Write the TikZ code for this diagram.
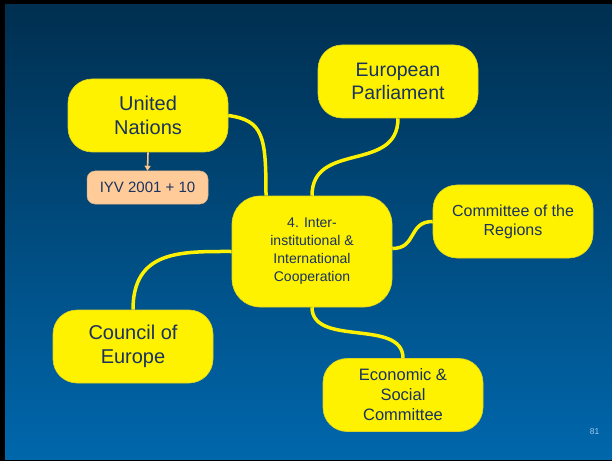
\documentclass[tikz,border=0pt]{standalone}
\usepackage{fontspec}
\setmainfont{Liberation Sans}
\usetikzlibrary{positioning}
\usetikzlibrary{arrows.meta}
\definecolor{slidetop}{RGB}{0,47,80}
\definecolor{slidebottom}{RGB}{0,103,172}
\definecolor{inktext}{RGB}{25,50,95}
\definecolor{peach}{RGB}{255,204,153}
\definecolor{pagenum}{RGB}{160,200,240}
\begin{document}
\begin{tikzpicture}[x=1pt,y=1pt,
  bubble/.style={draw=yellow!85!black,line width=0.6pt,fill=yellow,rounded corners=24pt,
    minimum width=160pt,minimum height=73pt,align=center,text=inktext,inner sep=2pt},
  branch/.style={draw=yellow,line width=3.5pt}]
 \useasboundingbox (0,0) rectangle (612,461);
 \fill[black](0,0) rectangle (612,461);
 \shade[top color=slidetop,bottom color=slidebottom](5,2) rectangle (612,456);
 \node[bubble,minimum height=111pt,rounded corners=28pt,font=\fontsize{14}{18}\selectfont] (hub) at (312,209.5) {4. Inter-\\institutional \&\\International\\Cooperation};
 \node[bubble,font=\fontsize{20}{24}\selectfont] (un) at (148,345.5) {United\\Nations};
 \node[draw=peach!85!black,line width=0.5pt,fill=peach,rounded corners=8pt,minimum width=121pt,minimum height=33pt,text=inktext,font=\fontsize{15}{18}\selectfont] (iyv) at (147.5,273.5) {IYV 2001 + 10};
 \node[bubble,font=\fontsize{19.5}{23}\selectfont] (ep) at (398,379.5) {European\\Parliament};
 \node[bubble,font=\fontsize{16}{19}\selectfont] (cor) at (513,239.5) {Committee of the\\Regions};
 \node[bubble,font=\fontsize{20}{23.5}\selectfont] (coe) at (133,114.5) {Council of\\Europe};
 \node[bubble,font=\fontsize{16.5}{20}\selectfont] (esc) at (403,66) {Economic \&\\Social\\Committee};
 \node[text=pagenum,font=\fontsize{8.5}{9}\selectfont] (pg) at (594.5,29) {81};
 \draw[branch] (un.east) .. controls +(35,-5) and +(0,60) .. ([xshift=-46pt]hub.north);
 \draw[branch] (ep.south) .. controls +(0,-55) and +(0,55) .. (hub.north);
 \draw[branch] ([yshift=3pt]hub.east) .. controls +(25,0) and +(-25,0) .. (cor.west);
 \draw[branch] (hub.west) .. controls +(-50,0) and +(0,60) .. (coe.north);
 \draw[branch] (hub.south) .. controls +(0,-40) and +(0,40) .. (esc.north);
 \draw[peach!90!orange,line width=1.6pt,-{Triangle[width=6pt,length=5pt]}] (un.south) -- (iyv.north);
\end{tikzpicture}
\end{document}
